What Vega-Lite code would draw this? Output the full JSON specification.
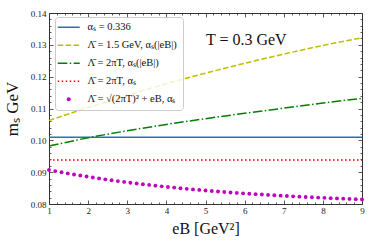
{
  "$schema": "https://vega.github.io/schema/vega-lite/v6.json",
  "width": 313,
  "height": 191,
  "autosize": {"type": "none"},
  "padding": {"left": 49, "top": 13, "right": 12, "bottom": 45},
  "background": "white",
  "config": {
    "view": {"stroke": "#333333", "strokeWidth": 1},
    "axis": {"domain": false, "grid": false, "tickColor": "#333333", "tickWidth": 0.8, "labelColor": "#222222", "labelFont": "Liberation Serif", "titleFont": "Liberation Serif", "titleFontWeight": "normal", "titleColor": "#111111", "labelFontSize": 9, "labelFlush": false, "labelOverlap": false}
  },
  "datasets": {
    "lines": [
      {"eB": 1, "ms": 0.1010, "series": "A"}, {"eB": 9, "ms": 0.1010, "series": "A"},
      {"eB": 1, "ms": 0.0938, "series": "D"}, {"eB": 9, "ms": 0.0938, "series": "D"},
      {"eB": 1, "ms": 0.1062, "series": "B"}, {"eB": 2, "ms": 0.1103, "series": "B"}, {"eB": 3, "ms": 0.1141, "series": "B"}, {"eB": 4, "ms": 0.1178, "series": "B"}, {"eB": 5, "ms": 0.1211, "series": "B"}, {"eB": 6, "ms": 0.1242, "series": "B"}, {"eB": 7, "ms": 0.1271, "series": "B"}, {"eB": 8, "ms": 0.1298, "series": "B"}, {"eB": 9, "ms": 0.1322, "series": "B"},
      {"eB": 1, "ms": 0.0982, "series": "C"}, {"eB": 2, "ms": 0.1008, "series": "C"}, {"eB": 3, "ms": 0.1030, "series": "C"}, {"eB": 4, "ms": 0.1050, "series": "C"}, {"eB": 5, "ms": 0.1068, "series": "C"}, {"eB": 6, "ms": 0.1085, "series": "C"}, {"eB": 7, "ms": 0.1101, "series": "C"}, {"eB": 8, "ms": 0.1117, "series": "C"}, {"eB": 9, "ms": 0.1132, "series": "C"}
    ],
    "dots": [
      {"eB": 1.00, "ms": 0.09070, "series": "E"}, {"eB": 1.16, "ms": 0.09033, "series": "E"}, {"eB": 1.32, "ms": 0.08996, "series": "E"}, {"eB": 1.48, "ms": 0.08961, "series": "E"}, {"eB": 1.64, "ms": 0.08928, "series": "E"}, {"eB": 1.80, "ms": 0.08895, "series": "E"}, {"eB": 1.96, "ms": 0.08863, "series": "E"}, {"eB": 2.12, "ms": 0.08833, "series": "E"}, {"eB": 2.28, "ms": 0.08803, "series": "E"}, {"eB": 2.44, "ms": 0.08774, "series": "E"},
      {"eB": 2.60, "ms": 0.08747, "series": "E"}, {"eB": 2.76, "ms": 0.08720, "series": "E"}, {"eB": 2.92, "ms": 0.08694, "series": "E"}, {"eB": 3.08, "ms": 0.08669, "series": "E"}, {"eB": 3.24, "ms": 0.08645, "series": "E"}, {"eB": 3.40, "ms": 0.08621, "series": "E"}, {"eB": 3.56, "ms": 0.08599, "series": "E"}, {"eB": 3.72, "ms": 0.08577, "series": "E"}, {"eB": 3.88, "ms": 0.08555, "series": "E"}, {"eB": 4.04, "ms": 0.08535, "series": "E"},
      {"eB": 4.20, "ms": 0.08515, "series": "E"}, {"eB": 4.36, "ms": 0.08496, "series": "E"}, {"eB": 4.52, "ms": 0.08477, "series": "E"}, {"eB": 4.68, "ms": 0.08459, "series": "E"}, {"eB": 4.84, "ms": 0.08442, "series": "E"}, {"eB": 5.00, "ms": 0.08425, "series": "E"}, {"eB": 5.16, "ms": 0.08409, "series": "E"}, {"eB": 5.32, "ms": 0.08393, "series": "E"}, {"eB": 5.48, "ms": 0.08378, "series": "E"}, {"eB": 5.64, "ms": 0.08363, "series": "E"},
      {"eB": 5.80, "ms": 0.08349, "series": "E"}, {"eB": 5.96, "ms": 0.08335, "series": "E"}, {"eB": 6.12, "ms": 0.08322, "series": "E"}, {"eB": 6.28, "ms": 0.08309, "series": "E"}, {"eB": 6.44, "ms": 0.08297, "series": "E"}, {"eB": 6.60, "ms": 0.08285, "series": "E"}, {"eB": 6.76, "ms": 0.08273, "series": "E"}, {"eB": 6.92, "ms": 0.08262, "series": "E"}, {"eB": 7.08, "ms": 0.08251, "series": "E"}, {"eB": 7.24, "ms": 0.08240, "series": "E"},
      {"eB": 7.40, "ms": 0.08230, "series": "E"}, {"eB": 7.56, "ms": 0.08220, "series": "E"}, {"eB": 7.72, "ms": 0.08211, "series": "E"}, {"eB": 7.88, "ms": 0.08202, "series": "E"}, {"eB": 8.04, "ms": 0.08193, "series": "E"}, {"eB": 8.20, "ms": 0.08184, "series": "E"}, {"eB": 8.36, "ms": 0.08176, "series": "E"}, {"eB": 8.52, "ms": 0.08168, "series": "E"}, {"eB": 8.68, "ms": 0.08160, "series": "E"}, {"eB": 8.84, "ms": 0.08152, "series": "E"},
      {"eB": 9.00, "ms": 0.08145, "series": "E"}
    ],
    "note": [{"label": "T = 0.3 GeV"}]
  },
  "resolve": {"axis": {"x": "independent", "y": "independent"}},
  "layer": [
    {
      "data": {"name": "lines"},
      "transform": [{"filter": "datum.series === 'A' || datum.series === 'D'"}],
      "mark": {"type": "line", "strokeWidth": 1.5, "interpolate": "monotone"},
      "encoding": {
        "x": {"field": "eB", "type": "quantitative", "scale": {"domain": [1, 9], "nice": false, "zero": false},
          "axis": {"orient": "bottom", "values": [1, 2, 3, 4, 5, 6, 7, 8, 9], "tickSize": -4, "labelPadding": 6, "title": "eB [GeV²]", "titleFontSize": 16, "titlePadding": 5}},
        "y": {"field": "ms", "type": "quantitative", "scale": {"domain": [0.08, 0.14], "nice": false, "zero": false},
          "axis": {"orient": "left", "values": [0.08, 0.09, 0.1, 0.11, 0.12, 0.13, 0.14], "format": ".2f", "tickSize": -4, "labelPadding": 7, "title": "mₛ GeV", "titleFontSize": 17, "titlePadding": 9}},
        "color": {"field": "series", "type": "nominal",
          "scale": {"domain": ["A", "B", "C", "D", "E"], "range": ["#1f77b4", "#bfbf00", "#008000", "#ff0000", "#bf00bf"]},
          "legend": {
            "orient": "none", "legendX": 6, "legendY": 4, "title": null,
            "padding": 5, "strokeColor": "#cccccc", "fillColor": "rgba(255,255,255,0.8)", "cornerRadius": 3,
            "rowPadding": 7, "symbolOffset": 3.5, "labelOffset": 13.5, "symbolSize": 121,
            "labelFont": "Liberation Serif", "labelFontSize": 10.5, "labelColor": "#111111", "labelLimit": 200,
            "labelExpr": "datum.value === 'A' ? 'αₛ = 0.336' : datum.value === 'B' ? 'Λ̄ = 1.5 GeV, αₛ(|eB|)' : datum.value === 'C' ? 'Λ̄ = 2πT, αₛ(|eB|)' : datum.value === 'D' ? 'Λ̄ = 2πT, αₛ' : 'Λ̄ = √(2πT)² + eB, αₛ'",
            "encode": {"symbols": {"update": {
              "shape": {"signal": "datum.value === 'E' ? 'circle' : 'M-2,0H2'"},
              "size": {"signal": "datum.value === 'E' ? 16 : 121"},
              "strokeDash": {"signal": "datum.value === 'B' ? [5.5, 2.4] : datum.value === 'C' ? [9.6, 2.4, 1.5, 2.4] : datum.value === 'D' ? [1.5, 2.5] : [1, 0]"},
              "fill": {"signal": "datum.value === 'E' ? '#bf00bf' : 'transparent'"},
              "strokeWidth": {"signal": "datum.value === 'E' ? 0 : 1.5"},
              "opacity": {"value": 1}
            }}}
          }},
        "strokeDash": {"field": "series", "type": "nominal", "legend": null,
          "scale": {"domain": ["A", "B", "C", "D"], "range": [[1, 0], [5.5, 2.4], [9.6, 2.4, 1.5, 2.4], [1.5, 2.5]]}}
      }
    },
    {
      "data": {"name": "lines"},
      "transform": [{"filter": "datum.series === 'B' || datum.series === 'C'"}],
      "mark": {"type": "line", "strokeWidth": 1.5, "interpolate": "monotone"},
      "encoding": {
        "x": {"field": "eB", "type": "quantitative",
          "axis": {"orient": "bottom", "values": [1.2, 1.4, 1.6, 1.8, 2.2, 2.4, 2.6, 2.8, 3.2, 3.4, 3.6, 3.8, 4.2, 4.4, 4.6, 4.8, 5.2, 5.4, 5.6, 5.8, 6.2, 6.4, 6.6, 6.8, 7.2, 7.4, 7.6, 7.8, 8.2, 8.4, 8.6, 8.8], "tickSize": -2, "labels": false, "title": null}},
        "y": {"field": "ms", "type": "quantitative",
          "axis": {"orient": "left", "values": [0.082, 0.084, 0.086, 0.088, 0.092, 0.094, 0.096, 0.098, 0.102, 0.104, 0.106, 0.108, 0.112, 0.114, 0.116, 0.118, 0.122, 0.124, 0.126, 0.128, 0.132, 0.134, 0.136, 0.138], "tickSize": -2, "labels": false, "title": null}},
        "color": {"field": "series", "type": "nominal"},
        "strokeDash": {"field": "series", "type": "nominal", "legend": null}
      }
    },
    {
      "data": {"name": "dots"},
      "mark": {"type": "circle", "size": 15, "opacity": 1},
      "encoding": {
        "x": {"field": "eB", "type": "quantitative",
          "axis": {"orient": "top", "values": [1, 2, 3, 4, 5, 6, 7, 8, 9], "tickSize": -4, "labels": false, "title": null}},
        "y": {"field": "ms", "type": "quantitative",
          "axis": {"orient": "right", "values": [0.08, 0.09, 0.1, 0.11, 0.12, 0.13, 0.14], "tickSize": -4, "labels": false, "title": null}},
        "color": {"field": "series", "type": "nominal"}
      }
    },
    {
      "data": {"name": "note"},
      "mark": {"type": "text", "align": "left", "baseline": "middle", "font": "Liberation Serif", "fontSize": 16, "color": "#111111"},
      "encoding": {
        "x": {"datum": 5.01, "type": "quantitative",
          "axis": {"orient": "top", "values": [1.2, 1.4, 1.6, 1.8, 2.2, 2.4, 2.6, 2.8, 3.2, 3.4, 3.6, 3.8, 4.2, 4.4, 4.6, 4.8, 5.2, 5.4, 5.6, 5.8, 6.2, 6.4, 6.6, 6.8, 7.2, 7.4, 7.6, 7.8, 8.2, 8.4, 8.6, 8.8], "tickSize": -2, "labels": false, "title": null}},
        "y": {"datum": 0.1315, "type": "quantitative",
          "axis": {"orient": "right", "values": [0.082, 0.084, 0.086, 0.088, 0.092, 0.094, 0.096, 0.098, 0.102, 0.104, 0.106, 0.108, 0.112, 0.114, 0.116, 0.118, 0.122, 0.124, 0.126, 0.128, 0.132, 0.134, 0.136, 0.138], "tickSize": -2, "labels": false, "title": null}},
        "text": {"field": "label"}
      }
    }
  ]
}
